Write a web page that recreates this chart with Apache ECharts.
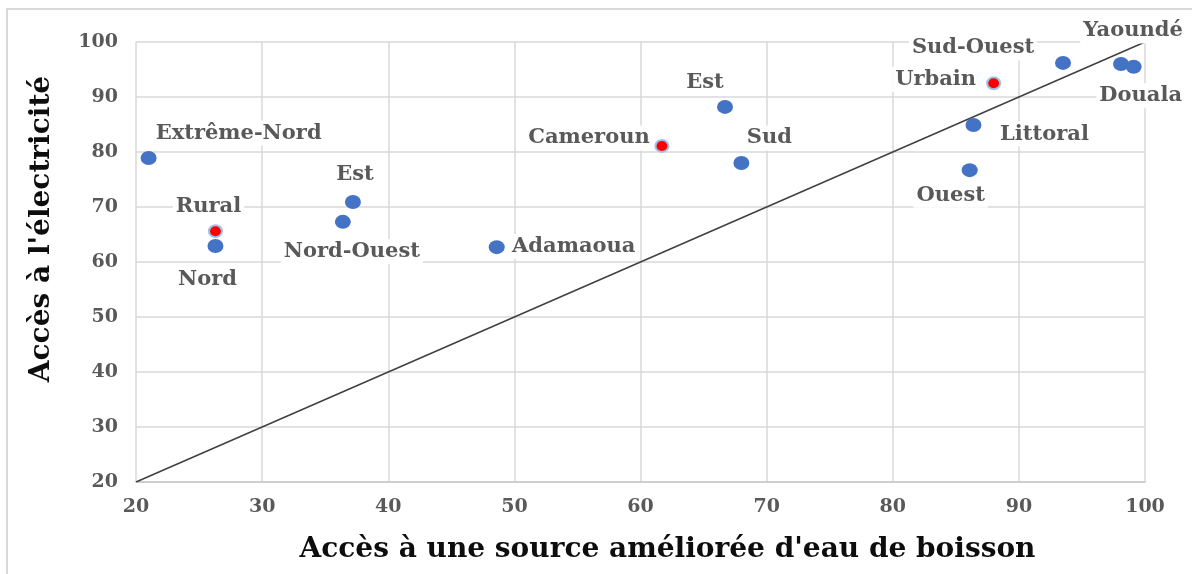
<!DOCTYPE html>
<html>
<head>
<meta charset="utf-8">
<script src="https://cdn.jsdelivr.net/npm/echarts@6/dist/echarts.min.js"></script>
<style>
  html, body { margin: 0; padding: 0; background: #fff; }
  #chart { width: 1192px; height: 574px; }
</style>
</head>
<body>
<div id="chart"></div>
<script>
// regions + national / milieu points
var regionNames = ['Extrême-Nord', 'Nord', 'Est', 'Nord-Ouest', 'Adamaoua', 'Est', 'Sud', 'Sud-Ouest', 'Yaoundé', 'Douala', 'Littoral', 'Ouest'];
var regionEau = [21.0, 26.3, 37.2, 36.4, 48.6, 66.7, 68.0, 93.5, 98.1, 99.1, 86.4, 86.1];
var regionElec = [78.9, 62.9, 70.9, 67.3, 62.7, 88.2, 78.0, 96.2, 96.0, 95.5, 84.9, 76.7];

var aggNames = ['Rural', 'Cameroun', 'Urbain'];
var aggEau = [26.3, 61.7, 88.0];
var aggElec = [65.6, 81.1, 92.5];

var diagonal = [20, 100];

// label offsets (center of text relative to the point)
var regionLabelOffsets = [[90, -25], [-8, 33], [2, -28], [9, 30], [77, -1], [-20, -24], [28, -25], [-90, -15], [12, -33], [7, 29], [71, 9], [-19, 25]];
var aggLabelOffsets = [[-7, -25], [-73, -8], [-58, -4]];

var serif = 'DejaVu Serif';

function buildPoints(names, xs, ys, offsets) {
  var out = [];
  for (var i = 0; i < names.length; i++) {
    out.push({
      name: names[i],
      value: [xs[i], ys[i]],
      label: { offset: offsets[i] }
    });
  }
  return out;
}

var labelStyle = {
  show: true,
  position: 'inside',
  align: 'center',
  verticalAlign: 'middle',
  formatter: '{b}',
  fontFamily: serif,
  fontWeight: 'bold',
  fontSize: 21,
  color: '#595959',
  backgroundColor: '#fff',
  padding: [2, 3]
};

var chart = echarts.init(document.getElementById('chart'));
var option = {
  animation: false,
  backgroundColor: '#fff',
  graphic: [{
    type: 'rect',
    shape: { x: 7, y: 9, width: 1300, height: 700 },
    style: { fill: 'none', stroke: '#d9d9d9', lineWidth: 2 },
    silent: true
  }],
  grid: { left: 136, right: 47, top: 42, bottom: 92 },
  xAxis: {
    type: 'value',
    min: 20,
    max: 100,
    interval: 10,
    name: "Accès à une source améliorée d'eau de boisson",
    nameLocation: 'middle',
    nameGap: 54,
    nameTextStyle: {
      fontFamily: serif, fontWeight: 'bold', fontSize: 28, color: '#0d0d0d',
      padding: [0, 0, 0, 54]
    },
    axisLine: { lineStyle: { color: '#c8c8c8', width: 1.5 } },
    axisTick: { show: false },
    axisLabel: { margin: 16, fontFamily: serif, fontWeight: 'bold', fontSize: 19, color: '#595959' },
    splitLine: { lineStyle: { color: '#d9d9d9', width: 1.5 } }
  },
  yAxis: {
    type: 'value',
    min: 20,
    max: 100,
    interval: 10,
    name: "Accès à l'électricité",
    nameLocation: 'middle',
    nameGap: 80,
    nameTextStyle: {
      fontFamily: serif, fontWeight: 'bold', fontSize: 28, color: '#0d0d0d',
      padding: [0, 0, 0, 66]
    },
    axisLine: { show: false },
    axisTick: { show: false },
    axisLabel: { margin: 18, fontFamily: serif, fontWeight: 'bold', fontSize: 19, color: '#595959' },
    splitLine: { lineStyle: { color: '#d9d9d9', width: 1.5 } }
  },
  series: [
    {
      name: 'diagonale',
      type: 'line',
      data: [[diagonal[0], diagonal[0]], [diagonal[1], diagonal[1]]],
      symbol: 'none',
      lineStyle: { color: '#404040', width: 1.5 },
      silent: true,
      z: 1
    },
    {
      name: 'Régions',
      type: 'scatter',
      symbolSize: [16, 14],
      itemStyle: { color: '#4472c4', opacity: 1 },
      label: labelStyle,
      data: buildPoints(regionNames, regionEau, regionElec, regionLabelOffsets),
      z: 3
    },
    {
      name: 'Ensemble',
      type: 'scatter',
      symbolSize: [13, 12],
      itemStyle: { color: '#ff0000', borderColor: '#9dc3e6', borderWidth: 2, opacity: 1 },
      label: labelStyle,
      data: buildPoints(aggNames, aggEau, aggElec, aggLabelOffsets),
      z: 4
    }
  ]
};
chart.setOption(option);
window.addEventListener('resize', chart.resize);
</script>
</body>
</html>
